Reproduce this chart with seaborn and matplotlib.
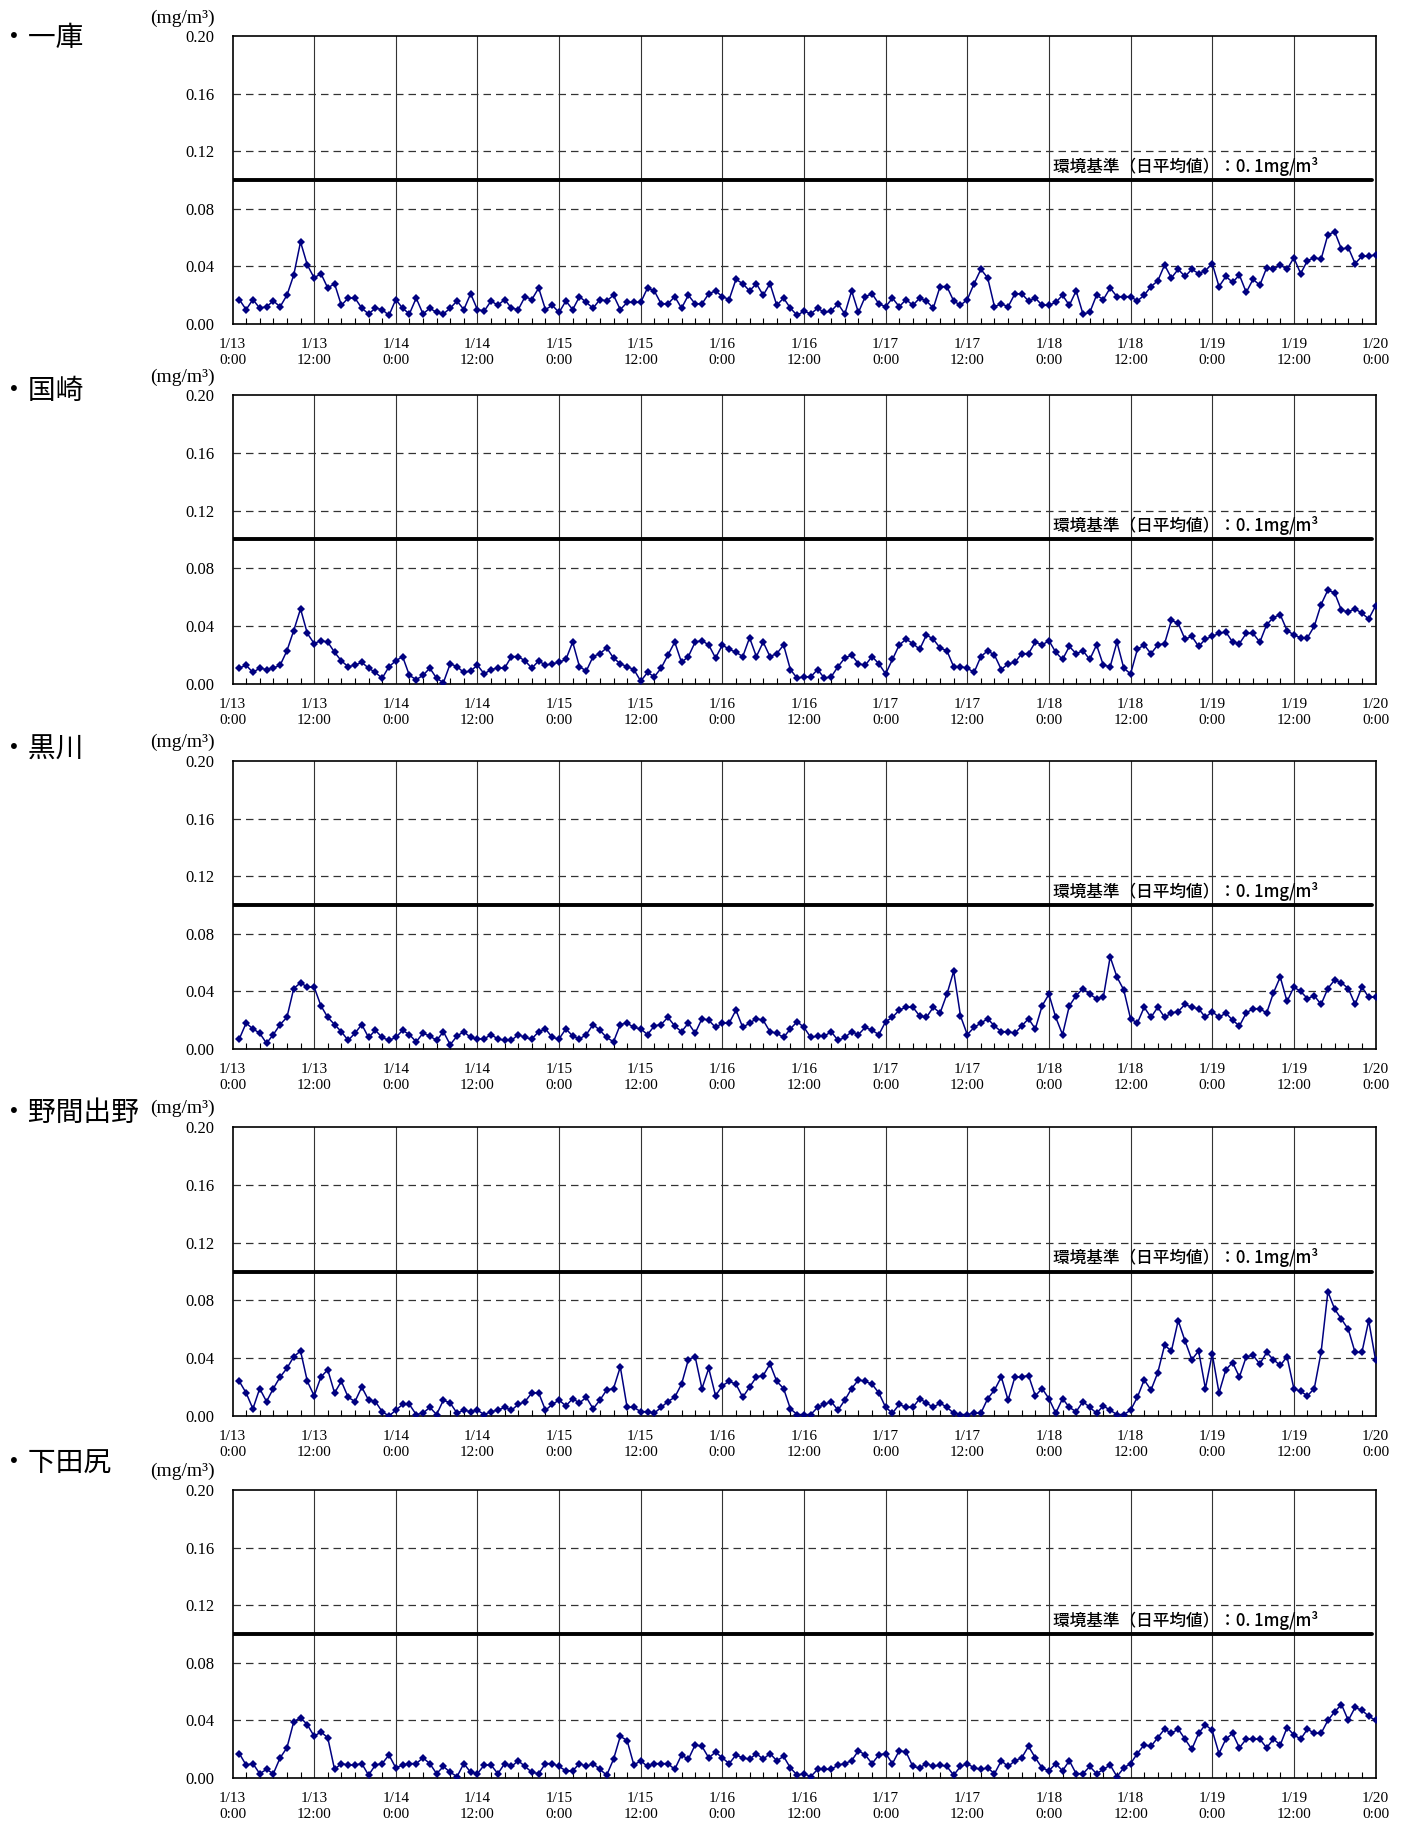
import numpy as np
import pandas as pd
import matplotlib
matplotlib.use('Agg')
import matplotlib.pyplot as plt
import seaborn as sns
from matplotlib.ticker import MultipleLocator

stations = ['一庫', '国崎', '黒川', '野間出野', '下田尻']
hours = list(range(1, 169))

ichiko = [
    0.017, 0.010, 0.017, 0.011, 0.012, 0.016, 0.012, 0.020, 0.034, 0.057,
    0.041, 0.032, 0.035, 0.025, 0.028, 0.013, 0.018, 0.018, 0.011, 0.007,
    0.011, 0.010, 0.006, 0.017, 0.011, 0.007, 0.018, 0.007, 0.011, 0.008,
    0.007, 0.011, 0.016, 0.010, 0.021, 0.010, 0.009, 0.016, 0.013, 0.017,
    0.011, 0.010, 0.019, 0.017, 0.025, 0.010, 0.013, 0.008, 0.016, 0.010,
    0.019, 0.015, 0.011, 0.017, 0.016, 0.020, 0.010, 0.015, 0.015, 0.015,
    0.025, 0.023, 0.014, 0.014, 0.019, 0.011, 0.020, 0.014, 0.014, 0.021,
    0.023, 0.019, 0.017, 0.031, 0.028, 0.023, 0.028, 0.020, 0.028, 0.013,
    0.018, 0.011, 0.006, 0.009, 0.007, 0.011, 0.008, 0.009, 0.014, 0.007,
    0.023, 0.008, 0.019, 0.021, 0.014, 0.012, 0.018, 0.012, 0.017, 0.013,
    0.018, 0.016, 0.011, 0.026, 0.026, 0.016, 0.013, 0.017, 0.028, 0.038,
    0.032, 0.012, 0.014, 0.012, 0.021, 0.021, 0.016, 0.018, 0.013, 0.013,
    0.015, 0.020, 0.013, 0.023, 0.007, 0.008, 0.020, 0.017, 0.025, 0.019,
    0.019, 0.019, 0.016, 0.020, 0.026, 0.030, 0.041, 0.032, 0.038, 0.033,
    0.038, 0.035, 0.037, 0.042, 0.026, 0.033, 0.029, 0.034, 0.022, 0.031,
    0.027, 0.039, 0.038, 0.041, 0.038, 0.046, 0.035, 0.044, 0.046, 0.045,
    0.062, 0.064, 0.052, 0.053, 0.042, 0.047, 0.047, 0.048]

kunisaki = [
    0.011, 0.013, 0.008, 0.011, 0.010, 0.011, 0.013, 0.023, 0.037, 0.052,
    0.035, 0.028, 0.030, 0.029, 0.022, 0.016, 0.012, 0.013, 0.015, 0.011,
    0.008, 0.004, 0.012, 0.016, 0.019, 0.006, 0.003, 0.006, 0.011, 0.004,
    0.001, 0.014, 0.012, 0.008, 0.009, 0.013, 0.007, 0.010, 0.011, 0.011,
    0.019, 0.019, 0.016, 0.011, 0.016, 0.013, 0.014, 0.015, 0.017, 0.029,
    0.012, 0.009, 0.019, 0.021, 0.025, 0.018, 0.014, 0.012, 0.010, 0.002,
    0.008, 0.005, 0.011, 0.020, 0.029, 0.015, 0.019, 0.029, 0.030, 0.027,
    0.018, 0.027, 0.024, 0.022, 0.019, 0.032, 0.019, 0.029, 0.019, 0.021,
    0.027, 0.010, 0.004, 0.005, 0.005, 0.010, 0.004, 0.005, 0.012, 0.018,
    0.020, 0.014, 0.013, 0.019, 0.014, 0.007, 0.017, 0.027, 0.031, 0.028,
    0.024, 0.034, 0.031, 0.025, 0.023, 0.012, 0.012, 0.011, 0.008, 0.019,
    0.023, 0.020, 0.010, 0.014, 0.015, 0.021, 0.021, 0.029, 0.027, 0.030,
    0.022, 0.017, 0.026, 0.021, 0.023, 0.017, 0.027, 0.013, 0.012, 0.029,
    0.011, 0.007, 0.024, 0.027, 0.021, 0.027, 0.028, 0.044, 0.042, 0.031,
    0.033, 0.026, 0.031, 0.033, 0.035, 0.036, 0.029, 0.028, 0.035, 0.035,
    0.029, 0.041, 0.046, 0.048, 0.037, 0.034, 0.032, 0.032, 0.040, 0.055,
    0.065, 0.063, 0.051, 0.050, 0.052, 0.049, 0.045, 0.054]

kurokawa = [
    0.007, 0.018, 0.014, 0.011, 0.004, 0.010, 0.017, 0.022, 0.042, 0.046,
    0.043, 0.043, 0.030, 0.022, 0.017, 0.012, 0.006, 0.011, 0.017, 0.008,
    0.013, 0.008, 0.006, 0.008, 0.013, 0.010, 0.005, 0.011, 0.009, 0.006,
    0.012, 0.003, 0.009, 0.012, 0.008, 0.007, 0.007, 0.010, 0.007, 0.006,
    0.006, 0.010, 0.008, 0.007, 0.012, 0.014, 0.008, 0.007, 0.014, 0.009,
    0.007, 0.010, 0.017, 0.013, 0.008, 0.005, 0.017, 0.018, 0.015, 0.014,
    0.010, 0.016, 0.017, 0.022, 0.016, 0.012, 0.018, 0.011, 0.021, 0.020,
    0.015, 0.018, 0.018, 0.027, 0.015, 0.018, 0.021, 0.020, 0.012, 0.011,
    0.008, 0.014, 0.019, 0.015, 0.008, 0.009, 0.009, 0.012, 0.006, 0.008,
    0.012, 0.010, 0.015, 0.013, 0.010, 0.019, 0.022, 0.027, 0.029, 0.029,
    0.023, 0.022, 0.029, 0.025, 0.038, 0.054, 0.023, 0.010, 0.015, 0.018,
    0.021, 0.016, 0.012, 0.012, 0.011, 0.016, 0.021, 0.014, 0.030, 0.038,
    0.022, 0.010, 0.030, 0.037, 0.042, 0.038, 0.035, 0.036, 0.064, 0.050,
    0.041, 0.021, 0.018, 0.029, 0.022, 0.029, 0.022, 0.025, 0.026, 0.031,
    0.029, 0.028, 0.022, 0.026, 0.022, 0.025, 0.020, 0.016, 0.025, 0.028,
    0.028, 0.025, 0.039, 0.050, 0.033, 0.043, 0.040, 0.035, 0.037, 0.031,
    0.042, 0.048, 0.046, 0.042, 0.031, 0.043, 0.036, 0.036]

nomadeno = [
    0.024, 0.016, 0.005, 0.019, 0.010, 0.019, 0.027, 0.033, 0.041, 0.045,
    0.024, 0.014, 0.027, 0.032, 0.016, 0.024, 0.013, 0.010, 0.020, 0.011,
    0.010, 0.003, 0.000, 0.004, 0.008, 0.008, 0.001, 0.002, 0.006, 0.001,
    0.011, 0.009, 0.002, 0.004, 0.003, 0.004, 0.001, 0.003, 0.004, 0.006,
    0.004, 0.008, 0.010, 0.016, 0.016, 0.004, 0.008, 0.011, 0.007, 0.012,
    0.009, 0.013, 0.005, 0.011, 0.018, 0.019, 0.034, 0.006, 0.006, 0.003,
    0.003, 0.002, 0.006, 0.010, 0.013, 0.022, 0.039, 0.041, 0.019, 0.033,
    0.014, 0.021, 0.024, 0.022, 0.013, 0.020, 0.027, 0.028, 0.036, 0.024,
    0.019, 0.005, 0.001, 0.001, 0.001, 0.006, 0.008, 0.010, 0.004, 0.011,
    0.019, 0.025, 0.024, 0.022, 0.016, 0.006, 0.002, 0.008, 0.006, 0.006,
    0.012, 0.009, 0.006, 0.009, 0.006, 0.002, 0.001, 0.001, 0.002, 0.002,
    0.012, 0.018, 0.027, 0.011, 0.027, 0.027, 0.028, 0.014, 0.019, 0.012,
    0.002, 0.012, 0.006, 0.003, 0.010, 0.006, 0.002, 0.007, 0.004, 0.001,
    0.001, 0.004, 0.013, 0.025, 0.018, 0.030, 0.049, 0.045, 0.066, 0.052,
    0.039, 0.045, 0.019, 0.043, 0.016, 0.032, 0.037, 0.027, 0.041, 0.042,
    0.036, 0.044, 0.039, 0.035, 0.041, 0.019, 0.017, 0.014, 0.019, 0.044,
    0.086, 0.074, 0.067, 0.060, 0.044, 0.044, 0.066, 0.039]

shimodajiri = [
    0.017, 0.009, 0.010, 0.003, 0.006, 0.003, 0.014, 0.021, 0.039, 0.042,
    0.037, 0.029, 0.032, 0.028, 0.006, 0.010, 0.009, 0.009, 0.010, 0.002,
    0.009, 0.010, 0.016, 0.007, 0.009, 0.010, 0.010, 0.014, 0.010, 0.003,
    0.008, 0.004, 0.001, 0.010, 0.004, 0.003, 0.009, 0.009, 0.003, 0.010,
    0.008, 0.012, 0.008, 0.004, 0.003, 0.010, 0.010, 0.008, 0.005, 0.005,
    0.010, 0.008, 0.010, 0.006, 0.002, 0.013, 0.029, 0.026, 0.009, 0.012,
    0.008, 0.010, 0.010, 0.010, 0.006, 0.016, 0.013, 0.023, 0.022, 0.014,
    0.018, 0.014, 0.010, 0.016, 0.014, 0.013, 0.017, 0.013, 0.017, 0.012,
    0.015, 0.007, 0.002, 0.003, 0.001, 0.006, 0.006, 0.006, 0.009, 0.010,
    0.012, 0.019, 0.016, 0.010, 0.016, 0.017, 0.010, 0.019, 0.018, 0.008,
    0.007, 0.010, 0.008, 0.009, 0.008, 0.002, 0.008, 0.010, 0.007, 0.006,
    0.007, 0.003, 0.012, 0.008, 0.012, 0.014, 0.022, 0.014, 0.007, 0.005,
    0.010, 0.005, 0.012, 0.003, 0.003, 0.008, 0.003, 0.006, 0.009, 0.001,
    0.007, 0.010, 0.017, 0.023, 0.022, 0.028, 0.034, 0.031, 0.034, 0.027,
    0.020, 0.031, 0.037, 0.033, 0.017, 0.027, 0.031, 0.021, 0.027, 0.027,
    0.027, 0.021, 0.027, 0.023, 0.035, 0.030, 0.027, 0.034, 0.031, 0.031,
    0.040, 0.046, 0.051, 0.040, 0.049, 0.047, 0.043, 0.040]

series = [ichiko, kunisaki, kurokawa, nomadeno, shimodajiri]

xtick_hours = list(range(0, 169, 12))
xtick_labels = ['1/13\n0:00', '1/13\n12:00', '1/14\n0:00', '1/14\n12:00',
                '1/15\n0:00', '1/15\n12:00', '1/16\n0:00', '1/16\n12:00',
                '1/17\n0:00', '1/17\n12:00', '1/18\n0:00', '1/18\n12:00',
                '1/19\n0:00', '1/19\n12:00', '1/20\n0:00']
ytick_values = [0.00, 0.04, 0.08, 0.12, 0.16, 0.20]
ytick_labels = ['0.00', '0.04', '0.08', '0.12', '0.16', '0.20']
standard_value = 0.1
standard_label = '環境基準（日平均値）：0. 1mg/m³'
unit_label = '(mg/m³)'

sns.set_theme(style='white')
plt.rcParams['font.family'] = ['Liberation Serif', 'Noto Sans CJK JP', 'DejaVu Sans']
plt.rcParams['text.color'] = 'black'
plt.rcParams['xtick.color'] = 'black'
plt.rcParams['ytick.color'] = 'black'

W, H = 1408, 1823
fig = plt.figure(figsize=(W / 100, H / 100), dpi=100)
fig.patch.set_facecolor('white')

# (axes top px, axes bottom px, station label y px, unit label y px)
layout = [(36, 324, 38, 18), (395, 684, 391, 377), (761, 1049, 750, 742),
          (1127, 1416, 1113, 1108), (1490, 1778, 1464, 1471)]

for name, vals, (top, bot, ly, uy) in zip(stations, series, layout):
    ax = fig.add_axes([232.5 / W, 1 - bot / H, 1143 / W, (bot - top) / H])
    df = pd.DataFrame({'hour': hours, 'value': vals})
    for v in [0.04, 0.08, 0.12, 0.16]:
        ax.axhline(v, color='#333333', lw=0.9, ls=(0, (6, 4)), zorder=0)
    for h in range(12, 168, 12):
        ax.axvline(h, color='#333333', lw=0.8, zorder=0)
    ax.axhline(standard_value, xmin=0, xmax=0.997, color='black', lw=2.8, zorder=1)
    sns.lineplot(data=df, x='hour', y='value', ax=ax, color='#000080',
                 marker='D', markersize=4.2, markeredgewidth=0, linewidth=1.1, zorder=3)
    ax.set_xlim(0, 168)
    ax.set_ylim(0, 0.2)
    ax.set_xticks(xtick_hours)
    ax.set_xticklabels(xtick_labels, fontsize=11, linespacing=1.3)
    ax.set_yticks(ytick_values)
    ax.set_yticklabels(ytick_labels, fontsize=12)
    ax.xaxis.set_minor_locator(MultipleLocator(2))
    ax.tick_params(axis='both', which='major', length=0)
    ax.tick_params(axis='y', pad=13)
    ax.tick_params(axis='x', which='major', pad=10)
    ax.tick_params(axis='x', which='minor', direction='in', length=4, width=0.8,
                   bottom=True, top=False, color='black')
    ax.set_xlabel('')
    ax.set_ylabel('')
    for s in ax.spines.values():
        s.set_color('black')
        s.set_linewidth(1.2)
    ax.text(120.6, 0.103, standard_label, family=['Noto Sans CJK JP', 'DejaVu Sans'],
            fontsize=12, fontweight='medium', va='bottom', ha='left', zorder=4)
    fig.text(0.0, 1 - ly / H, '・' + name, family=['Noto Sans CJK JP', 'DejaVu Sans'],
             fontsize=20, va='center', ha='left')
    fig.text(215 / W, 1 - uy / H, unit_label, family=['Liberation Serif', 'DejaVu Serif'],
             fontsize=14, va='center', ha='right')

fig.savefig('out.png', dpi=100, facecolor='white')
